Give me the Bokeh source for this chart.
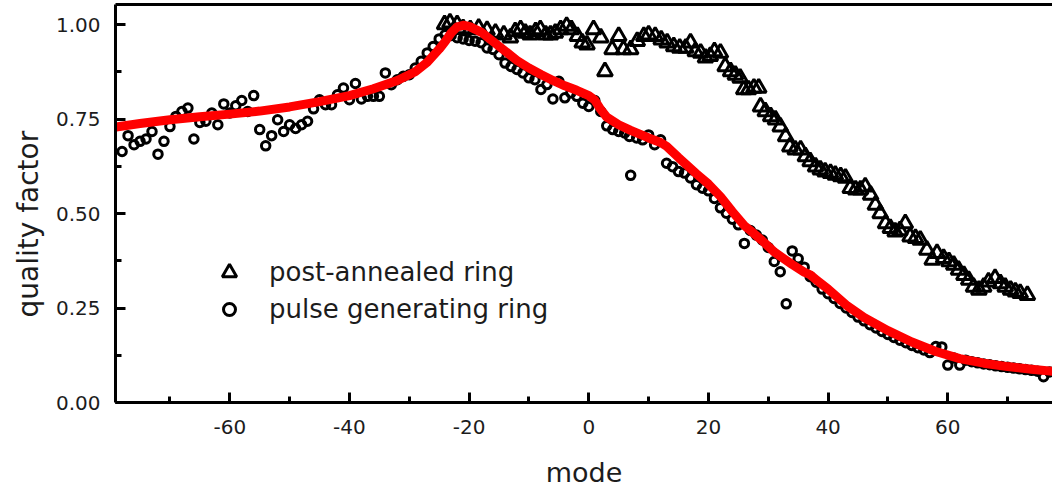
from bokeh.plotting import figure
from bokeh.models import (SingleIntervalTicker, PrintfTickFormatter, LinearAxis,
                          FixedTicker, Legend, LegendItem, Range1d, Title)
from bokeh.embed import file_html
from bokeh.resources import INLINE

# ---- data ----
pulse_mode = [-78, -77, -76, -75, -74, -73, -72, -71, -70, -69, -68, -67, -66, -65, -64,
              -63, -62, -61, -60, -59, -58, -57, -56, -55, -54, -53, -52, -51, -50, -49,
              -48, -47, -46, -45, -44, -43, -42, -41, -40, -39, -38, -37, -36, -35, -34,
              -33, -32, -31, -30, -29, -28, -27, -26, -25, -24, -23, -22, -21, -20, -19,
              -18, -17, -16, -15, -14, -13, -12, -11, -10, -9, -8, -7, -6, -5, -4,
              -3, -2, -1, 0, 1, 2, 3, 4, 5, 6, 6.8, 7, 8, 9, 10,
              11, 12, 13, 14, 15, 16, 17, 18, 19, 20, 21, 22, 23, 24, 25,
              26, 27, 28, 29, 30, 31, 32, 33, 34, 35, 36, 37, 38, 39, 40,
              41, 42, 43, 44, 45, 46, 47, 48, 49, 50, 51, 52, 53, 54, 55,
              56, 57, 58, 59, 60, 61, 62, 63, 64, 65, 66, 67, 68, 69, 70,
              71, 72, 73, 74, 75, 76, 77]
pulse_q = [0.664, 0.706, 0.682, 0.691, 0.697, 0.717, 0.657, 0.691, 0.730, 0.757, 0.770, 0.779, 0.697, 0.741, 0.744,
           0.766, 0.735, 0.790, 0.766, 0.785, 0.799, 0.770, 0.812, 0.722, 0.679, 0.706, 0.748, 0.717, 0.735, 0.725,
           0.735, 0.744, 0.777, 0.801, 0.788, 0.788, 0.814, 0.832, 0.801, 0.844, 0.803, 0.810, 0.810, 0.810, 0.872,
           0.841, 0.854, 0.863, 0.867, 0.885, 0.903, 0.925, 0.942, 0.962, 0.973, 0.971, 0.965, 0.962, 0.958, 0.956,
           0.952, 0.938, 0.934, 0.920, 0.898, 0.889, 0.881, 0.872, 0.859, 0.854, 0.828, 0.841, 0.803, 0.850, 0.806,
           0.819, 0.810, 0.792, 0.783, 0.799, 0.770, 0.732, 0.722, 0.717, 0.713, 0.704, 0.601, 0.700, 0.695, 0.708,
           0.682, 0.695, 0.633, 0.624, 0.611, 0.607, 0.594, 0.576, 0.567, 0.560, 0.540, 0.515, 0.501, 0.485, 0.470,
           0.421, 0.455, 0.443, 0.430, 0.410, 0.373, 0.346, 0.261, 0.401, 0.380, 0.358, 0.333, 0.318, 0.300, 0.288,
           0.275, 0.262, 0.250, 0.238, 0.226, 0.216, 0.206, 0.197, 0.188, 0.180, 0.172, 0.165, 0.158, 0.151, 0.145,
           0.139, 0.132, 0.148, 0.147, 0.099, 0.118, 0.099, 0.112, 0.108, 0.105, 0.102, 0.100, 0.097, 0.095, 0.093,
           0.091, 0.089, 0.087, 0.085, 0.083, 0.068, 0.081]

annealed_mode = [-24.1, -23.2, -22.0, -21.0, -19.8, -18.4, -17.0, -15.6, -14.2, -13.1, -12.3, -11.4, -10.6, -9.8, -8.9,
                 -8.1, -7.2, -6.4, -5.6, -4.7, -3.7, -2.9, -1.9, -1.1, -0.3, 0.8, 2.0, 2.7, 3.9, 5.0,
                 5.8, 7.0, 8.1, 9.2, 10.0, 11.1, 12.1, 13.1, 14.2, 15.2, 16.2, 17.0, 17.8, 18.7, 19.5,
                 20.3, 21.0, 22.0, 22.8, 23.7, 24.5, 25.3, 25.9, 26.7, 27.6, 28.4, 28.7, 29.5, 30.4, 31.2,
                 32.0, 32.9, 33.6, 34.5, 35.4, 36.2, 37.0, 37.9, 38.7, 39.5, 40.4, 41.2, 42.1, 42.9, 43.7,
                 44.6, 45.4, 46.2, 47.1, 47.9, 48.7, 49.6, 50.4, 51.2, 52.0, 52.9, 53.7, 54.6, 55.4, 56.5,
                 57.4, 58.2, 59.3, 60.2, 61.0, 61.8, 62.7, 63.5, 64.3, 65.2, 66.0, 66.8, 67.9, 68.8, 69.6,
                 70.5, 71.3, 72.1, 73.3]
annealed_q = [1.000, 1.005, 1.000, 0.990, 0.987, 0.991, 0.985, 0.978, 0.973, 0.965, 0.982, 0.987, 0.978, 0.973, 0.982,
              0.987, 0.973, 0.973, 0.978, 0.987, 0.996, 0.987, 0.969, 0.952, 0.947, 0.987, 0.965, 0.876, 0.934, 0.969,
              0.934, 0.934, 0.956, 0.969, 0.973, 0.969, 0.960, 0.952, 0.942, 0.938, 0.938, 0.952, 0.929, 0.925, 0.912,
              0.916, 0.929, 0.925, 0.889, 0.876, 0.867, 0.859, 0.828, 0.828, 0.832, 0.832, 0.783, 0.770, 0.757, 0.748,
              0.730, 0.704, 0.677, 0.669, 0.669, 0.651, 0.638, 0.624, 0.616, 0.611, 0.607, 0.602, 0.598, 0.594, 0.567,
              0.563, 0.563, 0.571, 0.549, 0.523, 0.500, 0.474, 0.461, 0.452, 0.455, 0.474, 0.439, 0.435, 0.430, 0.404,
              0.377, 0.395, 0.382, 0.373, 0.364, 0.351, 0.337, 0.324, 0.306, 0.298, 0.306, 0.320, 0.329, 0.315, 0.306,
              0.298, 0.293, 0.289, 0.284]

fit_mode = [-79, -75, -70, -65, -60, -55, -50, -45, -40, -36, -32, -29, -27, -25, -24, -23, -22, -21,
            -20, -18, -16, -14, -12, -10, -8, -6, -4, -2, 0, 1, 2, 3, 5, 7, 10, 12, 13, 15,
            18, 20, 22, 24, 26, 27, 29, 31, 34, 36, 37, 38, 40, 43, 46, 50, 54, 58, 62, 66,
            70, 74, 78]
fit_q = [0.729, 0.738, 0.748, 0.756, 0.763, 0.771, 0.782, 0.796, 0.812, 0.830, 0.852, 0.875, 0.900, 0.935, 0.955,
         0.978, 0.994, 0.998, 0.995, 0.980, 0.955, 0.930, 0.905, 0.885, 0.868, 0.852, 0.838, 0.826, 0.812, 0.800,
         0.775, 0.755, 0.735, 0.720, 0.700, 0.688, 0.678, 0.648, 0.605, 0.578, 0.545, 0.505, 0.468, 0.455, 0.428,
         0.398, 0.365, 0.345, 0.338, 0.325, 0.300, 0.258, 0.225, 0.190, 0.160, 0.135, 0.116, 0.104, 0.095, 0.088,
         0.082]

x_label = "mode"
y_label = "quality factor"
legend_labels = ["post-annealed ring", "pulse generating ring"]

FONT = "DejaVu Sans"
TXT = "#1c1c1c"

p = figure(width=1052, height=492, output_backend="svg", toolbar_location=None,
           x_range=Range1d(-79.1, 77.5), y_range=Range1d(0, 1.053),
           min_border_left=115, min_border_right=0, min_border_top=4, min_border_bottom=90)
p.outline_line_color = None
p.xgrid.grid_line_color = None
p.ygrid.grid_line_color = None
p.background_fill_color = "white"
p.border_fill_color = "white"

tri = p.scatter(annealed_mode, annealed_q, marker="triangle", size=15, fill_color=None,
                line_color="black", line_width=3)
cir = p.scatter(pulse_mode, pulse_q, marker="circle", size=8.5, fill_color=None,
                line_color="black", line_width=3)
p.line(fit_mode, fit_q, line_color="#ff0000", line_width=9, line_join="round", line_cap="round")

for ax in (p.xaxis[0], p.yaxis[0]):
    ax.axis_line_width = 3
    ax.axis_line_color = "black"
    ax.major_tick_in = 10
    ax.major_tick_out = 0
    ax.minor_tick_in = 6
    ax.minor_tick_out = 0
    ax.major_tick_line_width = 3
    ax.minor_tick_line_width = 3
    ax.major_label_text_font = FONT
    ax.major_label_text_font_size = "20px"
    ax.major_label_text_color = TXT
    ax.axis_label_text_font = FONT
    ax.axis_label_text_font_size = "27px"
    ax.axis_label_text_font_style = "normal"
    ax.axis_label_text_color = TXT

p.xaxis[0].ticker = SingleIntervalTicker(interval=20, num_minor_ticks=2)
p.xaxis[0].formatter = PrintfTickFormatter(format="%d")
p.xaxis[0].axis_label = x_label
p.xaxis[0].major_label_standoff = 17
p.xaxis[0].axis_label_standoff = 20

p.yaxis[0].ticker = SingleIntervalTicker(interval=0.25, num_minor_ticks=2)
p.yaxis[0].formatter = PrintfTickFormatter(format="%.2f")
p.yaxis[0].major_label_standoff = 15

# y-axis title, a little below the frame centre as in the reference
ytitle = Title(text=y_label, align="left", offset=85, standoff=16,
               text_font=FONT, text_font_size="28px", text_font_style="normal",
               text_color=TXT)
p.add_layout(ytitle, "left")

top = LinearAxis(ticker=FixedTicker(ticks=[]), axis_line_width=3, axis_line_color="black",
                 major_tick_in=0, major_tick_out=0, minor_tick_in=0, minor_tick_out=0,
                 major_label_text_font_size="0px")
p.add_layout(top, "above")

leg_common = dict(padding=0, margin=0, spacing=0, label_text_font=FONT,
                  label_text_font_size="26px", label_text_color=TXT,
                  label_text_baseline="middle", border_line_color=None,
                  background_fill_alpha=0)
leg1 = Legend(items=[LegendItem(label=legend_labels[0], renderers=[tri])],
              location=(96, 112), glyph_width=36, glyph_height=36, label_standoff=22,
              **leg_common)
leg2 = Legend(items=[LegendItem(label=legend_labels[1], renderers=[cir])],
              location=(99, 78), glyph_width=30, glyph_height=30, label_standoff=25,
              **leg_common)
p.add_layout(leg1, "center")
p.add_layout(leg2, "center")

open("out.html", "w").write(file_html(p, INLINE))
